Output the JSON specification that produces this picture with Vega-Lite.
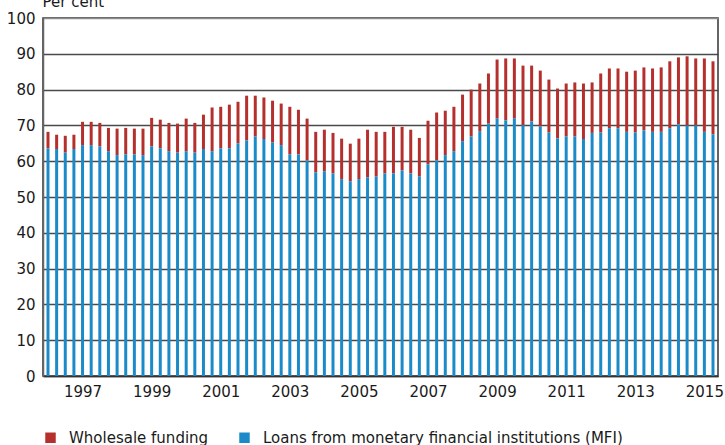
{
  "$schema": "https://vega.github.io/schema/vega-lite/v6.json",
  "width": 675,
  "height": 358,
  "autosize": {"type": "none"},
  "padding": {"left": 43, "top": 18, "right": 7, "bottom": 69},
  "background": "white",
  "config": {
    "font": "DejaVu Sans",
    "view": {"stroke": "#333333", "strokeWidth": 1.5},
    "axis": {"labelFont": "DejaVu Sans", "titleFont": "DejaVu Sans"},
    "legend": {"labelFont": "DejaVu Sans"}
  },
  "data": {
    "values": [
      {"t": 1996.00, "loans": 63.6, "wholesale": 4.6},
      {"t": 1996.25, "loans": 63.4, "wholesale": 4.0},
      {"t": 1996.50, "loans": 62.4, "wholesale": 4.7},
      {"t": 1996.75, "loans": 63.4, "wholesale": 4.0},
      {"t": 1997.00, "loans": 64.5, "wholesale": 6.5},
      {"t": 1997.25, "loans": 64.5, "wholesale": 6.5},
      {"t": 1997.50, "loans": 64.1, "wholesale": 6.6},
      {"t": 1997.75, "loans": 62.8, "wholesale": 6.5},
      {"t": 1998.00, "loans": 61.7, "wholesale": 7.4},
      {"t": 1998.25, "loans": 61.9, "wholesale": 7.4},
      {"t": 1998.50, "loans": 61.9, "wholesale": 7.2},
      {"t": 1998.75, "loans": 61.7, "wholesale": 7.4},
      {"t": 1999.00, "loans": 64.1, "wholesale": 8.0},
      {"t": 1999.25, "loans": 63.6, "wholesale": 8.0},
      {"t": 1999.50, "loans": 62.8, "wholesale": 7.9},
      {"t": 1999.75, "loans": 62.4, "wholesale": 8.1},
      {"t": 2000.00, "loans": 62.8, "wholesale": 9.1},
      {"t": 2000.25, "loans": 62.4, "wholesale": 8.3},
      {"t": 2000.50, "loans": 63.4, "wholesale": 9.6},
      {"t": 2000.75, "loans": 62.8, "wholesale": 12.2},
      {"t": 2001.00, "loans": 63.6, "wholesale": 11.6},
      {"t": 2001.25, "loans": 63.6, "wholesale": 12.2},
      {"t": 2001.50, "loans": 65.0, "wholesale": 11.6},
      {"t": 2001.75, "loans": 65.8, "wholesale": 12.5},
      {"t": 2002.00, "loans": 66.9, "wholesale": 11.4},
      {"t": 2002.25, "loans": 66.2, "wholesale": 11.6},
      {"t": 2002.50, "loans": 65.2, "wholesale": 11.7},
      {"t": 2002.75, "loans": 64.5, "wholesale": 11.6},
      {"t": 2003.00, "loans": 61.9, "wholesale": 13.3},
      {"t": 2003.25, "loans": 61.9, "wholesale": 12.5},
      {"t": 2003.50, "loans": 60.2, "wholesale": 11.7},
      {"t": 2003.75, "loans": 56.9, "wholesale": 11.3},
      {"t": 2004.00, "loans": 57.2, "wholesale": 11.6},
      {"t": 2004.25, "loans": 56.6, "wholesale": 11.3},
      {"t": 2004.50, "loans": 55.0, "wholesale": 11.3},
      {"t": 2004.75, "loans": 54.4, "wholesale": 10.5},
      {"t": 2005.00, "loans": 55.0, "wholesale": 11.3},
      {"t": 2005.25, "loans": 55.5, "wholesale": 13.3},
      {"t": 2005.50, "loans": 55.7, "wholesale": 12.5},
      {"t": 2005.75, "loans": 56.6, "wholesale": 11.6},
      {"t": 2006.00, "loans": 56.6, "wholesale": 13.0},
      {"t": 2006.25, "loans": 57.4, "wholesale": 12.2},
      {"t": 2006.50, "loans": 56.6, "wholesale": 12.2},
      {"t": 2006.75, "loans": 55.7, "wholesale": 10.8},
      {"t": 2007.00, "loans": 59.1, "wholesale": 12.2},
      {"t": 2007.25, "loans": 60.2, "wholesale": 13.4},
      {"t": 2007.50, "loans": 61.7, "wholesale": 12.4},
      {"t": 2007.75, "loans": 62.8, "wholesale": 12.4},
      {"t": 2008.00, "loans": 65.6, "wholesale": 13.0},
      {"t": 2008.25, "loans": 66.9, "wholesale": 13.1},
      {"t": 2008.50, "loans": 68.4, "wholesale": 13.3},
      {"t": 2008.75, "loans": 70.5, "wholesale": 14.0},
      {"t": 2009.00, "loans": 71.9, "wholesale": 16.5},
      {"t": 2009.25, "loans": 71.4, "wholesale": 17.3},
      {"t": 2009.50, "loans": 71.9, "wholesale": 16.8},
      {"t": 2009.75, "loans": 70.1, "wholesale": 16.6},
      {"t": 2010.00, "loans": 71.1, "wholesale": 15.6},
      {"t": 2010.25, "loans": 69.7, "wholesale": 15.6},
      {"t": 2010.50, "loans": 68.0, "wholesale": 14.8},
      {"t": 2010.75, "loans": 66.4, "wholesale": 13.9},
      {"t": 2011.00, "loans": 66.9, "wholesale": 14.8},
      {"t": 2011.25, "loans": 66.9, "wholesale": 15.1},
      {"t": 2011.50, "loans": 66.2, "wholesale": 15.5},
      {"t": 2011.75, "loans": 67.9, "wholesale": 14.1},
      {"t": 2012.00, "loans": 68.0, "wholesale": 16.5},
      {"t": 2012.25, "loans": 69.2, "wholesale": 16.7},
      {"t": 2012.50, "loans": 69.2, "wholesale": 16.7},
      {"t": 2012.75, "loans": 68.2, "wholesale": 16.8},
      {"t": 2013.00, "loans": 68.0, "wholesale": 17.3},
      {"t": 2013.25, "loans": 68.6, "wholesale": 17.6},
      {"t": 2013.50, "loans": 68.2, "wholesale": 17.7},
      {"t": 2013.75, "loans": 68.2, "wholesale": 18.0},
      {"t": 2014.00, "loans": 69.2, "wholesale": 18.7},
      {"t": 2014.25, "loans": 70.3, "wholesale": 18.7},
      {"t": 2014.50, "loans": 70.0, "wholesale": 19.3},
      {"t": 2014.75, "loans": 70.0, "wholesale": 18.7},
      {"t": 2015.00, "loans": 68.2, "wholesale": 20.5},
      {"t": 2015.25, "loans": 67.5, "wholesale": 20.4}
    ]
  },
  "transform": [
    {"fold": ["wholesale", "loans"], "as": ["key", "value"]},
    {"lookup": "key", "from": {"data": {"values": [
      {"key": "wholesale", "series": "Wholesale funding", "order": 2},
      {"key": "loans", "series": "Loans from monetary financial institutions (MFI)", "order": 1}
    ]}, "key": "key", "fields": ["series", "order"]}}
  ],
  "mark": {"type": "bar", "size": 3},
  "encoding": {
    "x": {
      "field": "t",
      "type": "quantitative",
      "scale": {"domain": [1996, 2015.25], "nice": false, "zero": false},
      "axis": {
        "values": [1997, 1999, 2001, 2003, 2005, 2007, 2009, 2011, 2013, 2015],
        "format": "d",
        "title": null,
        "grid": false,
        "ticks": false,
        "labelPadding": 8,
        "labelFontSize": 15,
        "labelColor": "#1a1a1a",
        "domainColor": "#333333",
        "domainWidth": 1.5,
        "labelFlush": false
      }
    },
    "y": {
      "field": "value",
      "type": "quantitative",
      "stack": "zero",
      "scale": {"domain": [0, 100], "nice": false},
      "axis": {
        "values": [0, 10, 20, 30, 40, 50, 60, 70, 80, 90, 100],
        "title": "Per cent",
        "titleAngle": 0,
        "titleAlign": "left",
        "titleBaseline": "alphabetic",
        "titleX": -1,
        "titleY": -12,
        "titleFontSize": 15,
        "titleFontWeight": "normal",
        "titleColor": "#1a1a1a",
        "ticks": false,
        "labelPadding": 8,
        "labelFontSize": 15,
        "labelColor": "#1a1a1a",
        "domainColor": "#666666",
        "domainWidth": 1.5,
        "gridColor": {"condition": {"test": "datum.value === 100", "value": "#8c8c8c"}, "value": "#4a4a4a"},
        "gridWidth": 1.5,
        "labelFlush": false
      }
    },
    "color": {
      "field": "series",
      "type": "nominal",
      "scale": {
        "domain": ["Wholesale funding", "Loans from monetary financial institutions (MFI)"],
        "range": ["#b5302d", "#1b8ac8"]
      },
      "legend": {
        "title": null,
        "orient": "none",
        "legendX": 0,
        "legendY": 412,
        "direction": "horizontal",
        "symbolType": "square",
        "symbolSize": 110,
        "symbolStrokeWidth": 0,
        "labelFontSize": 15,
        "labelColor": "#1a1a1a",
        "labelOffset": 11,
        "columnPadding": 28,
        "labelLimit": 500
      }
    },
    "order": {"field": "order", "type": "quantitative"}
  }
}
